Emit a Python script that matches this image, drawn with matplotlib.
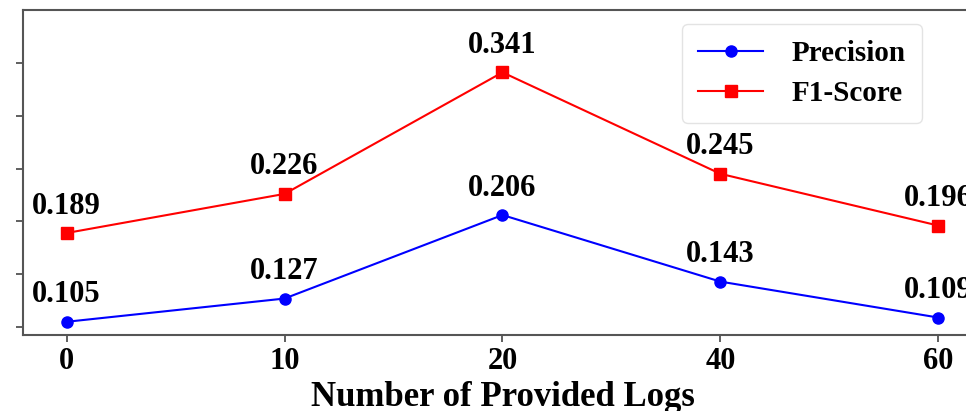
import matplotlib.pyplot as plt

plt.rcParams['font.family'] = ['Liberation Serif', 'DejaVu Serif']
plt.rcParams['font.weight'] = 'bold'

# data
logs = ['0', '10', '20', '40', '60']
precision = [0.105, 0.127, 0.206, 0.143, 0.109]
f1 = [0.189, 0.226, 0.341, 0.245, 0.196]

fig = plt.figure(figsize=(9.66, 4.11), dpi=100)
# the original picture is cropped: y labels and right part lie outside
ax = fig.add_axes([23 / 966, 76 / 411, 959 / 966, 325 / 411])

x = list(range(len(logs)))
ax.plot(x, precision, color='blue', marker='o', markersize=8, linewidth=1.5, label='Precision')
ax.plot(x, f1, color='red', marker='s', markersize=8, linewidth=1.5, label='F1-Score')

for xi, v in zip(x, precision):
    ax.annotate(f'{v:.3f}', (xi, v), xytext=(0, 9), textcoords='offset points',
                ha='center', va='bottom', fontsize=22, fontweight='bold', annotation_clip=False)
for xi, v in zip(x, f1):
    ax.annotate(f'{v:.3f}', (xi, v), xytext=(0, 9), textcoords='offset points',
                ha='center', va='bottom', fontsize=22, fontweight='bold', annotation_clip=False)

ax.set_xlim(-0.2, 4.2)
ax.set_ylim(0.0925, 0.40)
ax.set_xticks(x)
ax.set_xticklabels(logs, fontsize=22, fontweight='bold')
ax.set_yticks([0.10, 0.15, 0.20, 0.25, 0.30, 0.35])
ax.tick_params(axis='both', length=5, width=1.2, colors='#444444', labelcolor='black')
ax.tick_params(axis='y', labelleft=False)
ax.set_xlabel('Number of Provided Logs', fontsize=25, fontweight='bold', labelpad=4)

for s in ax.spines.values():
    s.set_color('#555555')
    s.set_linewidth(1.5)

leg = ax.legend(loc='upper right', bbox_to_anchor=(899 / 959, 311 / 325),
                prop={'weight': 'bold', 'size': 21}, handlelength=2.2, borderpad=0.55,
                labelspacing=0.45, handletextpad=1.0, borderaxespad=0)
leg.get_frame().set_edgecolor('#dddddd')

fig.savefig('out.png', dpi=100)
